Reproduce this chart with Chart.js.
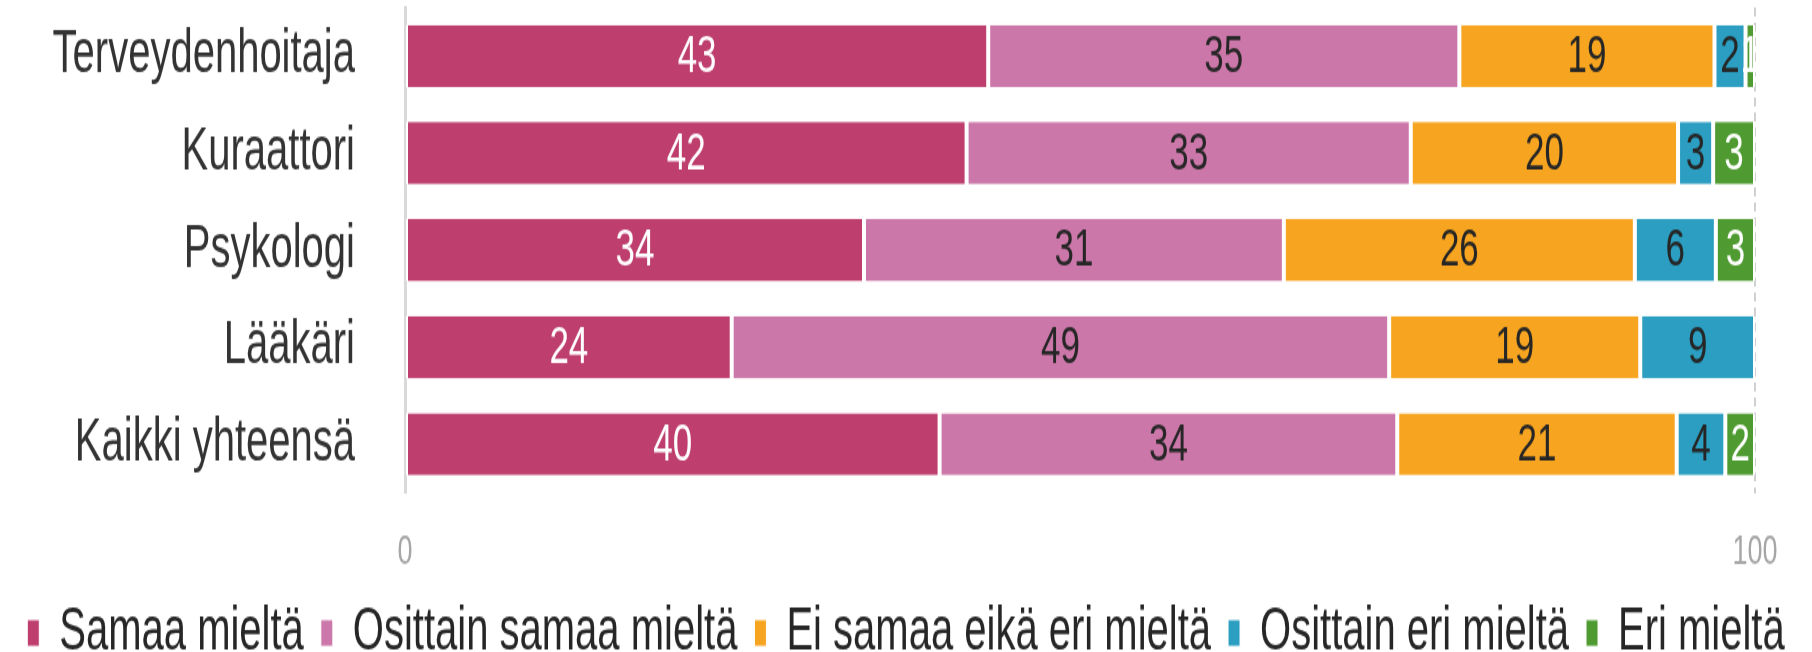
<!DOCTYPE html>
<html lang="fi">
<head>
    <meta charset="UTF-8">
    <title>Samaa mieltä</title>
    <script src="https://cdn.jsdelivr.net/npm/chart.js@4.4.0/dist/chart.umd.min.js"></script>
    <style>
        html{
            overflow: hidden;
        }
        body{
            margin: 0;
            padding: 0;
            height: 652px;
            background: #ffffff;
        }
        /* the original picture is stretched vertically, so the chart is drawn flat and scaled up */
        .wrapper{
            width: 1812px;
            height: 452px;
            transform: scaleY(1.5);
            transform-origin: 0 0;
        }
        #chart{
            display: block;
        }
    </style>
</head>
<body>
    <div class="wrapper">
        <canvas id="chart" width="1812" height="452"></canvas>
    </div>
</body>
</html>

<script>
    // categories and series (percent)
    var categories = ['Terveydenhoitaja', 'Kuraattori', 'Psykologi', 'Lääkäri', 'Kaikki yhteensä'];
    var samaa = [43.2, 41.6, 34.0, 24.2, 39.6];
    var osittainSamaa = [34.9, 32.9, 31.1, 48.7, 33.9];
    var eiSamaaEikaEri = [18.9, 19.8, 26.0, 18.6, 20.7];
    var osittainEri = [2.3, 2.6, 6.0, 8.5, 3.6];
    var eri = [0.7, 3.1, 2.9, 0, 2.2];
    var xTicks = [0, 100];

    var seriesNames = ['Samaa mieltä', 'Osittain samaa mieltä', 'Ei samaa eikä eri mieltä', 'Osittain eri mieltä', 'Eri mieltä'];
    var seriesData = [samaa, osittainSamaa, eiSamaaEikaEri, osittainEri, eri];
    var colors = ['#be3e6e', '#cc77a9', '#f7a520', '#2b9ec1', '#4f9b31'];
    var labelColors = ['#ffffff', '#262626', '#262626', '#262626', '#ffffff'];

    var font = "'Liberation Sans', Arial, sans-serif";

    // writes the rounded value in the middle of each segment
    var valueLabels = {
        id: 'valueLabels',
        afterDatasetsDraw: function(chart){
            var ctx = chart.ctx;
            ctx.save();
            ctx.font = '35px ' + font;
            ctx.textAlign = 'center';
            ctx.textBaseline = 'middle';
            chart.data.datasets.forEach(function(ds, i){
                var meta = chart.getDatasetMeta(i);
                meta.data.forEach(function(bar, j){
                    var v = ds.data[j];
                    if(!v) return;
                    ctx.fillStyle = labelColors[i];
                    ctx.fillText(Math.round(v), (bar.x + bar.base) / 2, bar.y + 1);
                });
            });
            ctx.restore();
        }
    };

    var datasets = seriesNames.map(function(name, i){
        return {
            label: name,
            data: seriesData[i],
            backgroundColor: colors[i],
            borderColor: '#ffffff',
            borderWidth: {left: 2, right: 2, top: 0, bottom: 0},
            borderSkipped: false,
            barPercentage: 0.64,
            categoryPercentage: 1
        };
    });

    var canvasChart = new Chart(document.getElementById('chart'), {
        type: 'bar',
        data: {
            labels: categories,
            datasets: datasets
        },
        plugins: [valueLabels],
        options: {
            indexAxis: 'y',
            responsive: false,
            animation: false,
            layout: {
                padding: {top: 5, right: 0, bottom: 0, left: 0}
            },
            plugins: {
                legend: {
                    position: 'bottom',
                    labels: {
                        boxWidth: 12,
                        boxHeight: 18,
                        padding: 17,
                        color: '#262626',
                        font: {family: font, size: 40}
                    }
                },
                tooltip: {enabled: false}
            },
            scales: {
                x: {
                    stacked: true,
                    min: 0,
                    max: 100,
                    afterBuildTicks: function(scale){
                        scale.ticks = xTicks.map(function(v){ return {value: v}; });
                    },
                    // fixed height and right gap so the plot lines up with the picture
                    afterFit: function(scale){
                        scale.height = 56.5;
                        scale.paddingRight = 57;
                    },
                    grid: {
                        color: function(c){ return c.tick && c.tick.value === 0 ? 'rgba(0,0,0,0)' : '#d0d0d0'; },
                        lineWidth: 2,
                        drawTicks: false
                    },
                    border: {display: false, dash: [6, 4]},
                    ticks: {
                        padding: 24,
                        color: '#a6a6a6',
                        font: {family: font, size: 27}
                    }
                },
                y: {
                    stacked: true,
                    // the tick padding would otherwise also be added above and below the plot
                    afterFit: function(scale){
                        scale.width = 405;
                        scale.paddingTop = 0;
                        scale.paddingBottom = 0;
                    },
                    grid: {display: false},
                    border: {display: true, color: '#d9d9d9', width: 3},
                    ticks: {
                        autoSkip: false,
                        padding: 42,
                        color: '#333333',
                        font: {family: font, size: 40}
                    }
                }
            }
        }
    });
</script>
